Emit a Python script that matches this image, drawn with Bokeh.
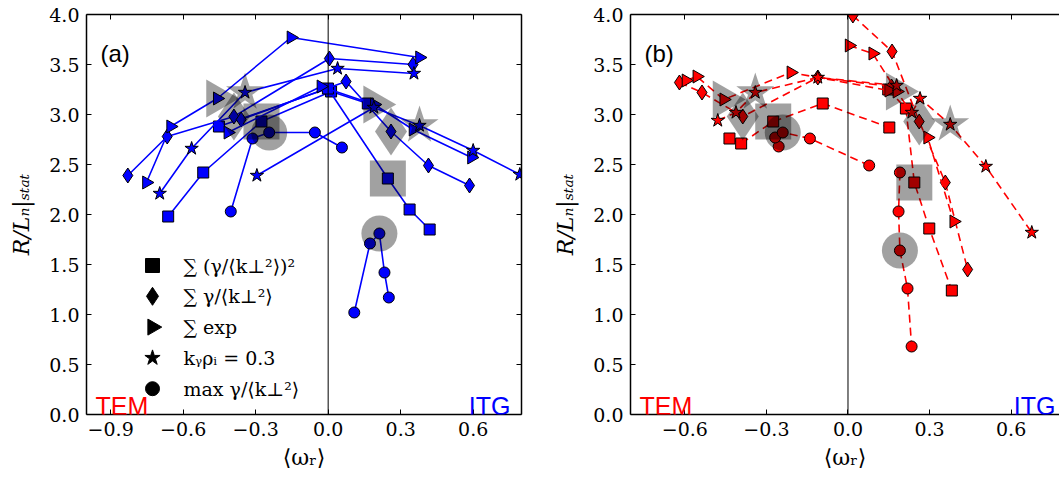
import numpy as np
from bokeh.plotting import figure
from bokeh.models import (ColumnDataSource, Range1d, FixedTicker, CustomJSTickFormatter,
                          LinearAxis, Span, Label)
from bokeh.core.properties import value
from bokeh.layouts import row
from bokeh.embed import file_html
from bokeh.resources import INLINE

METHODS = ["square", "diamond", "triangle", "star", "circle"]
LEGEND_LABELS = ["∑ (γ/⟨k⊥²⟩)²", "∑ γ/⟨k⊥²⟩", "∑ exp", "kᵧρᵢ = 0.3", "max γ/⟨k⊥²⟩"]

X_TICKS_A = [-0.9, -0.6, -0.3, 0.0, 0.3, 0.6]
X_TICKS_B = [-0.6, -0.3, 0.0, 0.3, 0.6]
Y_TICKS = [0.0, 0.5, 1.0, 1.5, 2.0, 2.5, 3.0, 3.5, 4.0]

# Each list: first 5 points = scan through the TEM reference case,
# last 5 points = scan through the ITG reference case (reference = 3rd point of each scan)
A_SQUARE_X = [-0.662, -0.517, -0.276, 0.012, 0.164, -0.452, -0.001, 0.247, 0.337, 0.420]
A_SQUARE_Y = [1.98, 2.42, 2.93, 3.23, 3.11, 2.88, 3.26, 2.36, 2.05, 1.85]
A_DIAMOND_X = [-0.829, -0.666, -0.390, 0.005, 0.351, -0.360, 0.074, 0.260, 0.415, 0.585]
A_DIAMOND_Y = [2.39, 2.78, 2.98, 3.56, 3.50, 2.95, 3.33, 2.83, 2.49, 2.29]
A_TRIANGLE_X = [-0.752, -0.652, -0.459, -0.154, 0.378, -0.415, -0.030, 0.191, 0.351, 0.593]
A_TRIANGLE_Y = [2.32, 2.88, 3.16, 3.77, 3.57, 2.82, 3.28, 3.10, 2.85, 2.57]
A_STAR_X = [-0.697, -0.565, -0.344, 0.039, 0.355, -0.295, 0.189, 0.378, 0.600, 0.793]
A_STAR_Y = [2.21, 2.66, 3.22, 3.46, 3.41, 2.39, 3.07, 2.89, 2.64, 2.40]
A_CIRCLE_X = [-0.403, -0.313, -0.244, -0.055, 0.057, 0.108, 0.173, 0.212, 0.233, 0.251]
A_CIRCLE_Y = [2.03, 2.76, 2.82, 2.82, 2.67, 1.02, 1.71, 1.81, 1.42, 1.17]

B_SQUARE_X = [-0.436, -0.393, -0.275, -0.093, 0.152, 0.148, 0.213, 0.244, 0.299, 0.382]
B_SQUARE_Y = [2.76, 2.71, 2.93, 3.11, 2.87, 3.25, 3.06, 2.32, 1.86, 1.24]
B_DIAMOND_X = [-0.620, -0.537, -0.387, -0.111, 0.160, 0.018, 0.162, 0.262, 0.358, 0.440]
B_DIAMOND_Y = [3.32, 3.22, 2.98, 3.37, 3.28, 3.99, 3.63, 2.93, 2.32, 1.45]
B_TRIANGLE_X = [-0.596, -0.556, -0.457, -0.210, 0.150, 0.004, 0.091, 0.180, 0.293, 0.389]
B_TRIANGLE_Y = [3.34, 3.38, 3.15, 3.42, 3.24, 3.69, 3.61, 3.23, 2.77, 1.93]
B_STAR_X = [-0.479, -0.412, -0.341, -0.111, 0.179, 0.235, 0.265, 0.376, 0.507, 0.676]
B_STAR_Y = [2.94, 3.02, 3.22, 3.37, 3.29, 3.02, 3.16, 2.90, 2.48, 1.82]
B_CIRCLE_X = [-0.255, -0.268, -0.240, -0.140, 0.078, 0.191, 0.186, 0.191, 0.219, 0.234]
B_CIRCLE_Y = [2.68, 2.77, 2.82, 2.76, 2.49, 2.42, 2.03, 1.64, 1.26, 0.68]

PANEL_A = {"square": (A_SQUARE_X, A_SQUARE_Y), "diamond": (A_DIAMOND_X, A_DIAMOND_Y),
           "triangle": (A_TRIANGLE_X, A_TRIANGLE_Y), "star": (A_STAR_X, A_STAR_Y),
           "circle": (A_CIRCLE_X, A_CIRCLE_Y)}
PANEL_B = {"square": (B_SQUARE_X, B_SQUARE_Y), "diamond": (B_DIAMOND_X, B_DIAMOND_Y),
           "triangle": (B_TRIANGLE_X, B_TRIANGLE_Y), "star": (B_STAR_X, B_STAR_Y),
           "circle": (B_CIRCLE_X, B_CIRCLE_Y)}

SIZES = {"square": 11, "diamond": 15, "triangle": 13, "star": 14, "circle": 11}
LEGEND_SIZES = {"square": 14, "diamond": 18, "triangle": 16, "star": 16, "circle": 14}
GRAY_SIZES = {"square": 36, "diamond": 48, "triangle": 38, "star": 40, "circle": 36}
ANGLES = {"square": 0.0, "diamond": 0.0, "triangle": -np.pi / 2, "star": 0.0, "circle": 0.0}
REF_IDX = [2, 7]

# legend layout, in pixels inside the frame of panel (a)
FRAME_W, FRAME_H = 435, 400
LEG_GLYPH_X, LEG_LABEL_X, LEG_TOP_Y, LEG_PITCH = 66, 97, 149, 30.8

SERIF = "DejaVu Serif"
SANS = "Liberation Sans"
FMT = CustomJSTickFormatter(code="return tick.toFixed(1).replace('-', '\u2212')")
BLANK = CustomJSTickFormatter(code="return ''")


def style_axis(ax, labels=True):
    ax.major_tick_in = 5
    ax.major_tick_out = 0
    ax.minor_tick_line_color = None
    ax.axis_line_color = "black"
    ax.axis_line_width = 1.5
    ax.major_tick_line_color = "black"
    ax.major_tick_line_width = 1
    if labels:
        ax.major_label_text_font = SERIF
        ax.major_label_text_font_size = "19px"
        ax.major_label_text_color = "black"
        ax.axis_label_text_font = SERIF
        ax.axis_label_text_font_size = "22px"
        ax.axis_label_text_color = "black"
    else:
        ax.major_label_text_font_size = "1px"
        ax.major_label_standoff = 0


def make_panel(data, color, dash, x_range, x_ticks, width, min_left, min_right,
               right_axis, tag, itg_x):
    p = figure(width=width, height=481, x_range=Range1d(*x_range), y_range=Range1d(0, 4),
               output_backend="svg", toolbar_location=None,
               min_border_left=min_left, min_border_right=min_right,
               min_border_top=14, min_border_bottom=67,
               x_axis_location=None, y_axis_location=None)
    p.outline_line_color = None
    p.grid.visible = False
    p.background_fill_color = "white"

    xb = LinearAxis(ticker=FixedTicker(ticks=x_ticks), formatter=FMT)
    style_axis(xb)
    xb.axis_label = "⟨ωᵣ⟩"
    xb.axis_label_text_font_style = "normal"
    xb.major_label_standoff = 7
    xb.axis_label_standoff = 6
    p.add_layout(xb, "below")

    yl = LinearAxis(ticker=FixedTicker(ticks=Y_TICKS), formatter=FMT)
    style_axis(yl)
    yl.axis_label = "R/Lₙ|ₛₜₐₜ"
    yl.axis_label_text_font_style = "italic"
    yl.major_label_standoff = 7
    yl.axis_label_standoff = 12
    p.add_layout(yl, "left")

    xt = LinearAxis(ticker=FixedTicker(ticks=x_ticks), formatter=BLANK)
    style_axis(xt, labels=False)
    p.add_layout(xt, "above")
    if right_axis:
        yr = LinearAxis(ticker=FixedTicker(ticks=Y_TICKS), formatter=BLANK)
        style_axis(yr, labels=False)
        p.add_layout(yr, "right")

    p.add_layout(Span(location=0, dimension="height", line_color="black", line_width=1))

    for m in METHODS:
        xs, ys = data[m]
        for seg in (slice(0, 5), slice(5, 10)):
            src = ColumnDataSource(dict(x=xs[seg], y=ys[seg]))
            p.line("x", "y", source=src, line_color=color, line_width=1.6, line_dash=dash)
            p.scatter("x", "y", source=src, marker=m, size=SIZES[m], angle=ANGLES[m],
                      fill_color=color, line_color="black", line_width=1)
    for m in METHODS:
        xs, ys = data[m]
        src = ColumnDataSource(dict(x=[xs[i] for i in REF_IDX], y=[ys[i] for i in REF_IDX]))
        p.scatter("x", "y", source=src, marker=m, size=GRAY_SIZES[m], angle=ANGLES[m],
                  fill_color="black", fill_alpha=0.37, line_color=None)

    p.add_layout(Label(x=9, y=9, x_units="screen", y_units="screen", text="TEM",
                       text_font=SANS, text_font_size="25px", text_color="#ff0000",
                       text_baseline="alphabetic"))
    p.add_layout(Label(x=itg_x, y=9, x_units="screen", y_units="screen", text="ITG",
                       text_font=SANS, text_font_size="25px", text_color="#0000ff",
                       text_baseline="alphabetic", text_align="right"))
    p.add_layout(Label(x=14, y=361, x_units="screen", y_units="screen", text=tag,
                       text_font=SANS, text_font_size="24px", text_color="black",
                       text_baseline="alphabetic"))
    return p


pa = make_panel(PANEL_A, "#0000ff", "solid", (-1.0, 0.8), X_TICKS_A, 538, 86, 17,
                True, "(a)", 424)
pb = make_panel(PANEL_B, "#ff0000", "8 5", (-0.8, 0.778), X_TICKS_B, 521, 92, 0,
                False, "(b)", 425)

# legend of panel (a), laid out in a pixel coordinate system of the frame
pa.extra_x_ranges = {"px": Range1d(0, FRAME_W)}
pa.extra_y_ranges = {"px": Range1d(0, FRAME_H)}
for i, (m, lab) in enumerate(zip(METHODS, LEGEND_LABELS)):
    ly = LEG_TOP_Y - i * LEG_PITCH
    pa.scatter(x=[LEG_GLYPH_X], y=[ly], marker=m, size=LEGEND_SIZES[m], angle=ANGLES[m],
               fill_color="black", line_color="black",
               x_range_name="px", y_range_name="px")
    pa.text(x=[LEG_LABEL_X], y=[ly], text=[lab], text_font=value(SERIF),
            text_font_size=value("19px"), text_color="black", text_baseline="middle",
            x_range_name="px", y_range_name="px")

layout = row(pa, pb)
open("out.html", "w").write(file_html(layout, INLINE))
